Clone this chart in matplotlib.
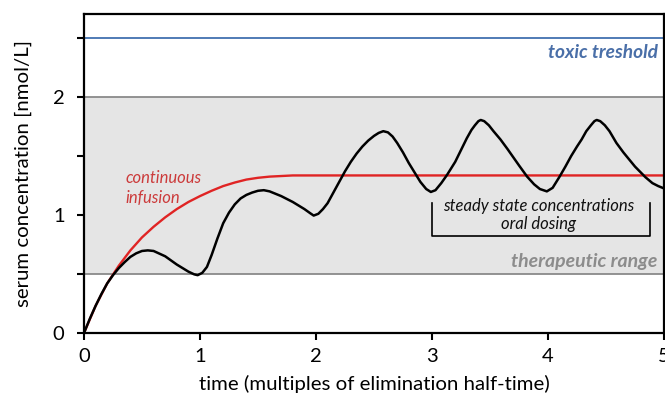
import matplotlib
matplotlib.use("Agg")
import matplotlib.pyplot as plt

plt.rcParams['font.family'] = ['Lato', 'DejaVu Sans']

# Oral dosing: serum concentration over time (multiples of elimination half-time)
time_oral = [0.00, 0.05, 0.10, 0.15, 0.20, 0.25, 0.30, 0.35, 0.40, 0.45, 0.50, 0.55,
             0.60, 0.70, 0.80, 0.90, 0.95, 0.98, 1.02, 1.06, 1.10, 1.15, 1.20, 1.25,
             1.30, 1.35, 1.40, 1.45, 1.50, 1.55, 1.60, 1.70, 1.80, 1.90, 1.95, 1.98,
             2.02, 2.06, 2.10, 2.15, 2.20, 2.25, 2.30, 2.35, 2.40, 2.45, 2.50, 2.54,
             2.58, 2.62, 2.66, 2.70, 2.75, 2.80, 2.85, 2.90, 2.95, 2.99, 3.03, 3.08,
             3.13, 3.20, 3.25, 3.30, 3.34, 3.37, 3.40, 3.42, 3.45, 3.49, 3.53, 3.59,
             3.65, 3.70, 3.75, 3.82, 3.88, 3.93, 3.99, 4.04, 4.10, 4.15, 4.20, 4.25,
             4.29, 4.33, 4.37, 4.40, 4.42, 4.45, 4.49, 4.53, 4.59, 4.65, 4.70, 4.75,
             4.80, 4.84, 4.90, 4.95, 5.00]
conc_oral = [0.00, 0.12, 0.23, 0.33, 0.42, 0.49, 0.55, 0.60, 0.645, 0.675, 0.695, 0.70,
             0.695, 0.65, 0.58, 0.52, 0.497, 0.49, 0.51, 0.56, 0.66, 0.80, 0.93, 1.02,
             1.09, 1.14, 1.17, 1.19, 1.205, 1.21, 1.20, 1.16, 1.11, 1.05, 1.015, 0.995,
             1.01, 1.05, 1.10, 1.19, 1.28, 1.37, 1.45, 1.52, 1.58, 1.63, 1.67, 1.695,
             1.71, 1.70, 1.665, 1.61, 1.53, 1.44, 1.36, 1.28, 1.22, 1.195, 1.21, 1.27,
             1.34, 1.45, 1.55, 1.65, 1.72, 1.76, 1.795, 1.805, 1.795, 1.76, 1.71, 1.64,
             1.56, 1.49, 1.42, 1.325, 1.26, 1.22, 1.20, 1.23, 1.325, 1.41, 1.50, 1.58,
             1.64, 1.71, 1.76, 1.795, 1.805, 1.795, 1.76, 1.71, 1.61, 1.53, 1.47, 1.41,
             1.36, 1.32, 1.27, 1.245, 1.225]

# Continuous infusion
time_infusion = [0.0, 0.1, 0.2, 0.3, 0.4, 0.5, 0.6, 0.7, 0.8, 0.9, 1.0, 1.1, 1.2,
                 1.3, 1.4, 1.5, 1.6, 1.7, 1.8, 2.0, 5.0]
conc_infusion = [0.00, 0.23, 0.42, 0.57, 0.70, 0.81, 0.90, 0.98, 1.05, 1.11, 1.16,
                 1.205, 1.245, 1.275, 1.30, 1.315, 1.325, 1.33, 1.335, 1.335, 1.335]

# Reference levels
toxic_threshold = 2.5
therapeutic_range = [0.5, 2.0]
steady_state_window = [3.0, 4.88]
steady_state_bracket = [1.10, 0.82]

x_ticks = [0, 1, 2, 3, 4, 5]
y_major = [0, 1, 2]
y_minor = [0.5, 1.5, 2.5]

fig = plt.figure(figsize=(6.65, 4.03), dpi=100)
ax = fig.add_axes([0.1263, 0.1737, 0.8722, 0.7916])

ax.set_xlim(0, 5)
ax.set_ylim(0, 2.703)

ax.axhspan(therapeutic_range[0], therapeutic_range[1], color='#e5e5e5', lw=0, zorder=0)
for level in therapeutic_range:
    ax.axhline(level, color='#8a8a8a', lw=1.3, zorder=1)
ax.axhline(toxic_threshold, color='#4f7bb5', lw=1.4, zorder=1)

ax.plot(time_infusion, conc_infusion, color='#e02424', lw=1.7, zorder=2,
        solid_capstyle='round')
ax.plot(time_oral, conc_oral, color='black', lw=1.8, zorder=3,
        solid_joinstyle='round', solid_capstyle='round')

# Bracket marking steady state
x0, x1 = steady_state_window
top, bottom = steady_state_bracket
ax.plot([x0, x0, x1, x1], [top, bottom, bottom, top], color='black', lw=1.2, zorder=3)

mid = sum(steady_state_window) / 2 - 0.02
ax.text(mid, 1.08, 'steady state concentrations', ha='center', va='center',
        style='italic', fontsize=12, color='#111111')
ax.text(mid, 0.925, 'oral dosing', ha='center', va='center',
        style='italic', fontsize=12, color='#111111')

ax.text(0.36, 1.31, 'continuous', ha='left', va='center', style='italic',
        fontsize=12, color='#cc3b3b')
ax.text(0.36, 1.14, 'infusion', ha='left', va='center', style='italic',
        fontsize=12, color='#cc3b3b')

ax.text(4.95, 2.38, 'toxic treshold', ha='right', va='center', style='italic',
        fontweight='bold', fontsize=13.8, color='#4a6fa8')
ax.text(4.94, 0.61, 'therapeutic range', ha='right', va='center', style='italic',
        fontweight='bold', fontsize=14, color='#8c8c8c')

ax.set_xticks(x_ticks)
ax.set_xticklabels([str(t) for t in x_ticks])
ax.set_yticks(y_major)
ax.set_yticklabels([str(t) for t in y_major])
ax.set_yticks(y_minor, minor=True)
ax.tick_params(axis='x', which='major', direction='out', length=5, width=1.5,
               labelsize=14.5, colors='black', pad=6)
ax.tick_params(axis='y', which='major', direction='out', length=5, width=1.5,
               labelsize=14.5, colors='black', pad=9)
ax.tick_params(axis='y', which='minor', direction='out', length=5, width=1.5)

for side in ax.spines.values():
    side.set_linewidth(1.6)
    side.set_color('black')

ax.set_xlabel('time (multiples of elimination half-time)', fontsize=14.7, labelpad=7)
ax.set_ylabel('serum concentration [nmol/L]', fontsize=14.7, labelpad=15)

fig.savefig('out.png', dpi=100)
